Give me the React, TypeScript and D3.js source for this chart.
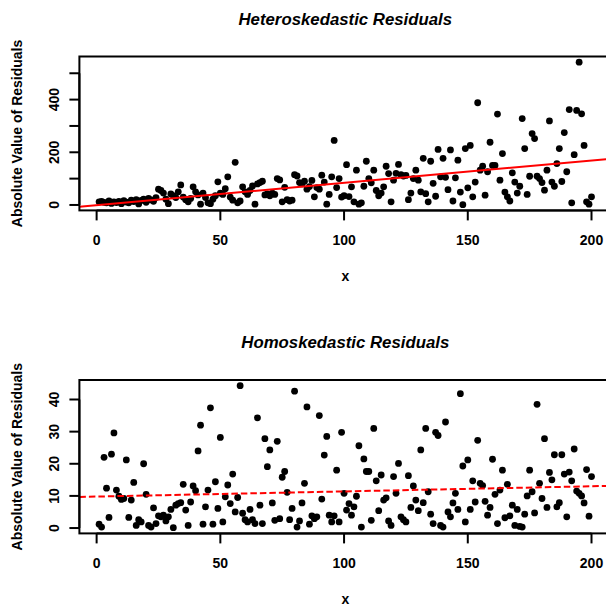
import React from 'react'
import * as d3 from 'd3'

// x = 1..200 for both panels
const heteroResid = [
  12, 14, 10, 8, 15, 6, 12, 9, 14, 5,
  16, 11, 8, 18, 13, 20, 4, 17, 22, 10,
  25, 19, 14, 28, 60, 55, 45, 22, 5, 42,
  35, 28, 50, 76, 30, 20, 12, 25, 69, 50,
  38, 3, 45, 28, 8, 5, 22, 35, 88, 45,
  40, 62, 107, 30, 18, 162, 8, 15, 69, 50,
  40, 55, 72, 3, 80, 85, 90, 38, 42, 35,
  45, 40, 100, 95, 12, 67, 20, 15, 18, 115,
  110, 85, 80, 90, 60, 70, 93, 31, 66, 60,
  113, 87, 3, 40, 107, 245, 66, 100, 30, 35,
  153, 32, 69, 12, 132, 3, 8, 71, 166, 100,
  84, 132, 55, 35, 45, 69, 147, 119, 12, 94,
  120, 154, 115, 110, 112, 20, 45, 100, 132, 94,
  50, 177, 43, 12, 166, 82, 33, 211, 107, 177,
  105, 58, 209, 15, 103, 170, 49, 1, 214, 65,
  226, 31, 87, 388, 132, 147, 37, 126, 238, 150,
  150, 345, 94, 195, 49, 31, 15, 122, 87, 45,
  71, 328, 214, 40, 109, 271, 252, 109, 100, 85,
  56, 132, 319, 87, 71, 157, 214, 89, 275, 126,
  362, 8, 191, 359, 542, 346, 226, 12, 3, 31,
]

const homoResid = [
  1.2, 0.3, 22, 12.4, 3.3, 23, 29.6, 11.8, 9.9, 8.9,
  9.2, 21.2, 3.3, 8.7, 14.2, 0.8, 2.6, 1.9, 20, 10.5,
  0.8, 0.3, 6.3, 1.4, 3.8, 3.5, 4, 2.2, 3.5, 5.8,
  0.1, 7.1, 7.6, 7.9, 13.6, 5.6, 0.8, 8.1, 13.1, 11.6,
  24, 32, 1.2, 6.6, 11.8, 37.4, 1.2, 14.4, 6.1, 28.2,
  1.9, 9.7, 13.4, 7.6, 16.8, 5, 9.5, 44.3, 4.6, 2.6,
  1.9, 5.8, 2.6, 1.4, 34.3, 7.1, 1.4, 27.8, 19.1, 24.3,
  7.8, 2.4, 27, 2.9, 15.8, 17.6, 11.1, 2.6, 6.1, 42.6,
  0.3, 2.2, 7.8, 13.9, 37.7, 1.2, 3.8, 2.9, 3.5, 35,
  9, 22.7, 28.5, 4, 1.9, 3.8, 18, 1.9, 29.8, 10.8,
  5.6, 7.6, 4, 6.6, 9.9, 25.6, 0.3, 21.5, 17.6, 17.6,
  2.4, 31, 14.7, 5.4, 16.5, 8.7, 9.4, 2.2, 0.8, 16,
  10.8, 20.1, 3.5, 2.6, 1.9, 16.3, 6.4, 13.1, 8.7, 5.4,
  24.3, 7.9, 31, 11.3, 4.3, 1.4, 29.8, 28.8, 0.8, 0.3,
  33, 5, 3.5, 7.8, 10.8, 5.8, 41.8, 19.3, 1.9, 21.2,
  5.8, 14.7, 8.1, 27.3, 13.9, 13.2, 8.3, 4, 6.4, 21.4,
  10.5, 1.4, 11.8, 18, 3.2, 13.6, 3.8, 7.1, 0.8, 5.8,
  0.5, 0.3, 4.3, 10, 18, 11.3, 4.7, 38.5, 13.9, 9.2,
  27.8, 6.4, 17.3, 15, 22.8, 6.6, 7.9, 22.8, 16.8, 3.5,
  17.4, 14.7, 24.6, 11.5, 10.8, 10, 7.8, 18.2, 3.7, 16,
]

const xTicks = [0, 50, 100, 150, 200]
const heteroYTicks = [0, 100, 200, 300, 400, 500]
const heteroYLabels = [0, 200, 400]
const homoYTicks = [0, 10, 20, 30, 40]
const homoYLabels = [0, 10, 20, 30, 40]

// fitted lines (intercept, slope)
const heteroFit = [-1, 0.85]
const homoFit = [9.8, 0.016]

const W = 606
const H = 609
const LEFT = 79.4
const RIGHT = 611.2
const TICK = 10
const FONT = '"Liberation Sans", Arial, Helvetica, sans-serif'

// R style axis range: data extent stretched by 4% each side
function rRange(ext) {
  const pad = (ext[1] - ext[0]) * 0.04
  return [ext[0] - pad, ext[1] + pad]
}

function Panel({ id, title, values, top, bottom, yTicks, yLabels, fit, dashed }) {
  const xs = values.map((_, i) => i + 1)
  const x = d3.scaleLinear().domain(rRange(d3.extent(xs))).range([LEFT, RIGHT])
  const y = d3.scaleLinear().domain(rRange(d3.extent(values))).range([bottom, top])
  const [x0, x1] = x.domain()
  const cx = (LEFT + RIGHT) / 2

  return (
    <g>
      <defs>
        <clipPath id={`clip-${id}`}>
          <rect x={LEFT} y={top} width={RIGHT - LEFT} height={bottom - top} />
        </clipPath>
      </defs>

      {/* points */}
      {values.map((v, i) => (
        <circle key={i} cx={x(xs[i])} cy={y(v)} r={3.4} fill="#000" />
      ))}

      {/* fitted line */}
      <line
        clipPath={`url(#clip-${id})`}
        x1={x(x0)} y1={y(fit[0] + fit[1] * x0)}
        x2={x(x1)} y2={y(fit[0] + fit[1] * x1)}
        stroke="#ff0000" strokeWidth={2}
        strokeDasharray={dashed ? '6.5,3' : undefined}
      />

      {/* box */}
      <rect x={LEFT} y={top} width={RIGHT - LEFT} height={bottom - top}
        fill="none" stroke="#000" strokeWidth={2} />

      {/* x axis */}
      <line x1={x(xTicks[0])} x2={x(xTicks[xTicks.length - 1])} y1={bottom} y2={bottom}
        stroke="#000" strokeWidth={2} />
      {xTicks.map((t) => (
        <g key={t}>
          <line x1={x(t)} x2={x(t)} y1={bottom} y2={bottom + TICK} stroke="#000" strokeWidth={2} />
          <text x={x(t)} y={bottom + 35} textAnchor="middle" fontSize={14} fontWeight="bold">{t}</text>
        </g>
      ))}
      <text x={cx} y={bottom + 71} textAnchor="middle" fontSize={14} fontWeight="bold">x</text>

      {/* y axis */}
      <line x1={LEFT} x2={LEFT} y1={y(yTicks[0])} y2={y(yTicks[yTicks.length - 1])}
        stroke="#000" strokeWidth={2} />
      {yTicks.map((t) => (
        <line key={t} x1={LEFT - TICK} x2={LEFT} y1={y(t)} y2={y(t)} stroke="#000" strokeWidth={2} />
      ))}
      {yLabels.map((t) => (
        <text key={t} transform={`translate(54,${y(t)}) rotate(-90)`} textAnchor="middle"
          dominantBaseline="central" fontSize={14} fontWeight="bold">{t}</text>
      ))}
      <text transform={`translate(17,${(top + bottom) / 2}) rotate(-90)`} textAnchor="middle"
        dominantBaseline="central" fontSize={14} fontWeight="bold">Absolute Value of Residuals</text>

      {/* title */}
      <text x={cx} y={top - 32} textAnchor="middle" fontSize={16.8} fontWeight="bold"
        fontStyle="italic">{title}</text>
    </g>
  )
}

export default function App() {
  return (
    <div style={{ position: 'absolute', left: 0, top: 0 }}>
      <svg width={W} height={H} style={{ display: 'block', background: '#fff' }} fontFamily={FONT}>
        <Panel id="hetero" title="Heteroskedastic Residuals" values={heteroResid}
          top={56.5} bottom={210.4} yTicks={heteroYTicks} yLabels={heteroYLabels}
          fit={heteroFit} dashed={false} />
        <Panel id="homo" title="Homoskedastic Residuals" values={homoResid}
          top={380} bottom={533.4} yTicks={homoYTicks} yLabels={homoYLabels}
          fit={homoFit} dashed={true} />
      </svg>
    </div>
  )
}
